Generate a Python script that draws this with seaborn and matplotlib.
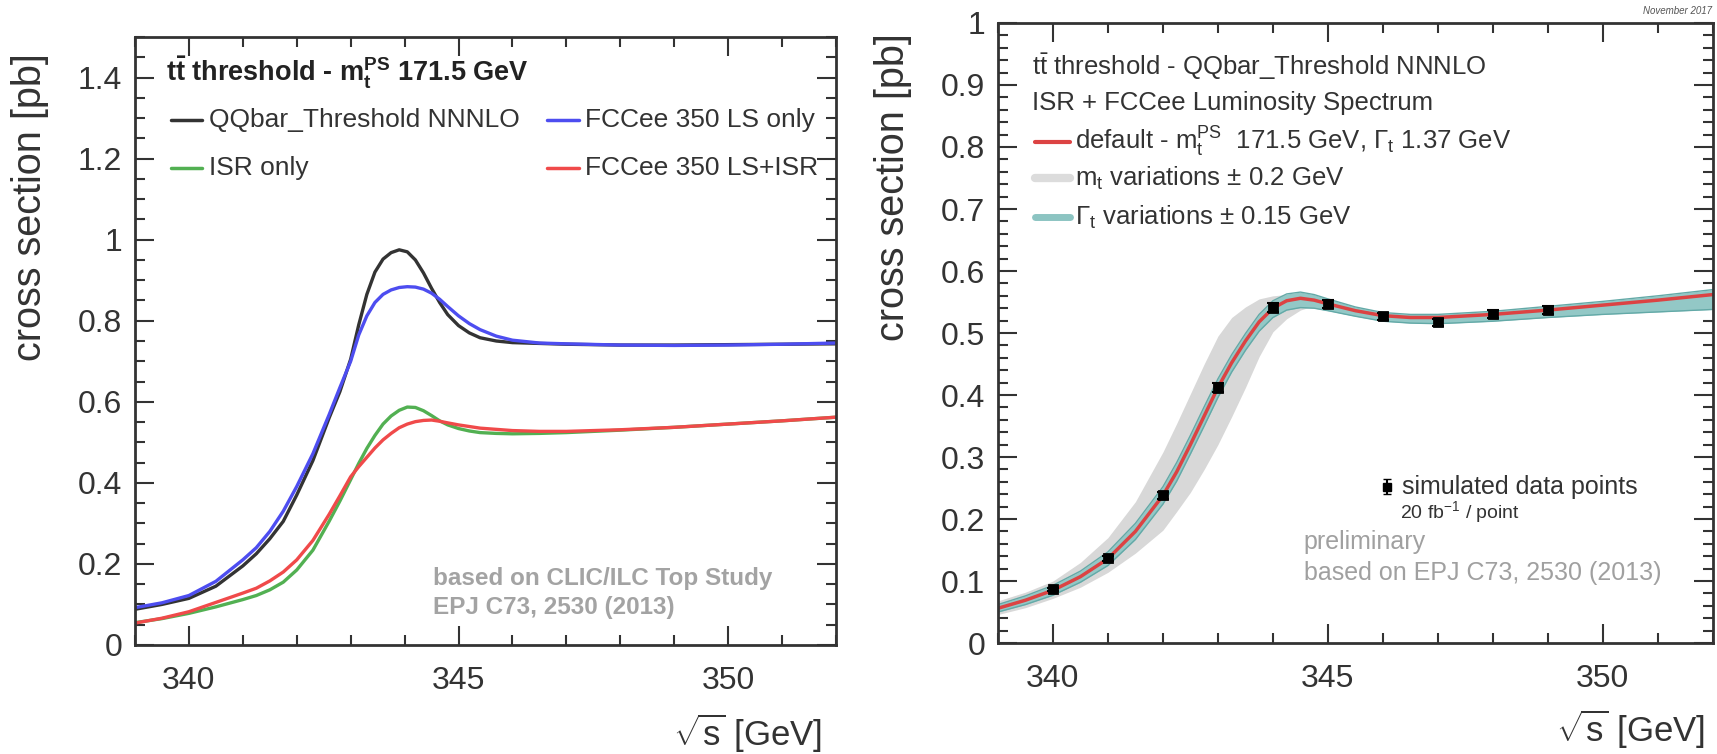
import numpy as np
import pandas as pd
import seaborn as sns
import matplotlib.pyplot as plt
from matplotlib.ticker import MultipleLocator, FuncFormatter

# ---- left panel: threshold scan curves ----
x_left = [339, 339.5, 340, 340.5, 341, 341.25, 341.5, 341.75, 342, 342.3, 342.6, 342.8,
          343.0, 343.15, 343.3, 343.45, 343.6, 343.75, 343.9, 344.05, 344.2, 344.35, 344.5,
          344.65, 344.8, 345.0, 345.2, 345.4, 345.7, 346, 346.5, 347, 348, 349, 350, 351, 352]
nnnlo = [0.088, 0.100, 0.115, 0.145, 0.195, 0.225, 0.262, 0.305, 0.370, 0.455, 0.560, 0.625,
         0.705, 0.790, 0.865, 0.920, 0.952, 0.968, 0.975, 0.970, 0.950, 0.918, 0.880,
         0.845, 0.815, 0.788, 0.770, 0.758, 0.750, 0.746, 0.744, 0.742, 0.740, 0.740, 0.741,
         0.742, 0.743]
ls_only = [0.092, 0.104, 0.122, 0.157, 0.210, 0.240, 0.280, 0.330, 0.391, 0.472, 0.568, 0.635,
           0.700, 0.765, 0.812, 0.845, 0.865, 0.876, 0.882, 0.884, 0.883, 0.878, 0.868,
           0.853, 0.835, 0.812, 0.793, 0.778, 0.762, 0.752, 0.745, 0.743, 0.740, 0.739, 0.740,
           0.742, 0.745]
isr_only = [0.055, 0.065, 0.078, 0.094, 0.112, 0.122, 0.136, 0.155, 0.185, 0.234, 0.305, 0.355,
            0.408, 0.448, 0.485, 0.517, 0.545, 0.565, 0.579, 0.587, 0.586, 0.578, 0.566,
            0.553, 0.543, 0.534, 0.528, 0.524, 0.522, 0.521, 0.522, 0.524, 0.530, 0.537, 0.545,
            0.553, 0.562]
ls_isr = [0.054, 0.066, 0.082, 0.105, 0.128, 0.140, 0.158, 0.180, 0.210, 0.258, 0.322, 0.368,
          0.415, 0.440, 0.463, 0.486, 0.506, 0.522, 0.536, 0.545, 0.551, 0.554, 0.555,
          0.552, 0.548, 0.543, 0.539, 0.535, 0.532, 0.529, 0.527, 0.527, 0.531, 0.537, 0.545,
          0.553, 0.562]

# ---- right panel: default curve + variation bands + simulated points ----
x_right = [339, 339.5, 340, 340.5, 341, 341.5, 342, 342.25, 342.5, 342.75, 343, 343.25, 343.5,
           343.75, 344, 344.25, 344.5, 344.75, 345, 345.5, 346, 346.5, 347, 348, 349, 350,
           351, 352]
default = [0.056, 0.069, 0.085, 0.107, 0.136, 0.180, 0.238, 0.276, 0.320, 0.366, 0.412, 0.452,
           0.487, 0.518, 0.540, 0.552, 0.556, 0.553, 0.547, 0.536, 0.528, 0.525, 0.525, 0.530,
           0.537, 0.545, 0.553, 0.562]
mt_hi = [0.068, 0.082, 0.100, 0.130, 0.170, 0.228, 0.308, 0.354, 0.402, 0.450, 0.495, 0.525,
         0.542, 0.555, 0.560, 0.562, 0.561, 0.557, 0.552, 0.540, 0.531, 0.527, 0.527, 0.533,
         0.540, 0.548, 0.556, 0.566]
mt_lo = [0.046, 0.057, 0.072, 0.090, 0.114, 0.145, 0.182, 0.212, 0.243, 0.280, 0.320, 0.365,
         0.412, 0.462, 0.502, 0.523, 0.537, 0.544, 0.543, 0.535, 0.525, 0.521, 0.521, 0.526,
         0.533, 0.540, 0.548, 0.556]
gam_hi = [0.062, 0.076, 0.093, 0.116, 0.147, 0.193, 0.252, 0.291, 0.335, 0.381, 0.426, 0.465,
          0.499, 0.530, 0.552, 0.563, 0.566, 0.562, 0.555, 0.542, 0.533, 0.530, 0.530, 0.535,
          0.543, 0.551, 0.560, 0.570]
gam_lo = [0.050, 0.062, 0.077, 0.098, 0.125, 0.167, 0.224, 0.261, 0.305, 0.350, 0.396, 0.437,
          0.472, 0.503, 0.525, 0.537, 0.541, 0.540, 0.536, 0.527, 0.519, 0.516, 0.515, 0.519,
          0.525, 0.530, 0.534, 0.538]

pts_x = [340, 341, 342, 343, 344, 345, 346, 347, 348, 349]
pts_y = [0.0865, 0.137, 0.238, 0.412, 0.541, 0.547, 0.527, 0.517, 0.531, 0.537]
pts_err = [0.003, 0.004, 0.005, 0.007, 0.007, 0.006, 0.006, 0.006, 0.006, 0.006]

sns.set_style('ticks')
plt.rcParams['font.family'] = ['Liberation Sans', 'DejaVu Sans']
plt.rcParams['mathtext.fontset'] = 'custom'
plt.rcParams['mathtext.rm'] = 'Liberation Sans'
plt.rcParams['mathtext.it'] = 'Liberation Sans:italic'
plt.rcParams['mathtext.bf'] = 'Liberation Sans:bold'

TXT = '#333333'
BLACK, BLUE, GREEN, RED = '#333333', '#4d4df0', '#52b052', '#f04a4a'

fig = plt.figure(figsize=(17.17, 7.54), dpi=100)
ax1 = fig.add_axes([0.0786, 0.1446, 0.4083, 0.8063])
ax2 = fig.add_axes([0.5812, 0.1472, 0.4164, 0.8223])

fmt = FuncFormatter(lambda v, p: '%g' % round(v, 3))
for ax in (ax1, ax2):
    ax.set_xlim(339, 352)
    ax.xaxis.set_major_locator(MultipleLocator(5))
    ax.xaxis.set_minor_locator(MultipleLocator(1))
    ax.xaxis.set_major_formatter(fmt)
    ax.yaxis.set_major_formatter(fmt)
    ax.tick_params(which='both', direction='in', top=True, right=True, colors=TXT,
                   labelsize=23, width=1.5)
    ax.tick_params(which='major', length=14)
    ax.tick_params(which='minor', length=7)
    ax.tick_params(axis='x', pad=15)
    ax.tick_params(axis='y', pad=9)
    for s in ax.spines.values():
        s.set_linewidth(2)
        s.set_color(TXT)

# left panel
ax1.set_ylim(0, 1.5)
ax1.yaxis.set_major_locator(MultipleLocator(0.2))
ax1.yaxis.set_minor_locator(MultipleLocator(0.05))
for yy, c in [(nnnlo, BLACK), (ls_only, BLUE), (isr_only, GREEN), (ls_isr, RED)]:
    sns.lineplot(x=x_left, y=yy, ax=ax1, color=c, linewidth=2.4, estimator=None)

ax1.text(0.044, 0.942, r'$\mathbf{t\bar{t}}$ threshold - m$_\mathbf{t}^\mathbf{PS}$ 171.5 GeV',
         transform=ax1.transAxes, fontsize=19.5, fontweight='bold', color='#222222', va='center')
leg_left = [(0.051, 0.863, BLACK, 'QQbar_Threshold NNNLO'),
            (0.588, 0.863, BLUE, 'FCCee 350 LS only'),
            (0.051, 0.785, GREEN, 'ISR only'),
            (0.588, 0.785, RED, 'FCCee 350 LS+ISR')]
for lx, ly, c, lab in leg_left:
    ax1.plot([lx, lx + 0.045], [ly, ly], transform=ax1.transAxes, color=c, lw=2.5)
    ax1.text(lx + 0.054, ly, lab, transform=ax1.transAxes, fontsize=19, color='#333333',
             va='center')
ax1.text(0.425, 0.110, 'based on CLIC/ILC Top Study', transform=ax1.transAxes, fontsize=17.5,
         fontweight='bold', color='#a3a3a3', va='center')
ax1.text(0.425, 0.061, 'EPJ C73, 2530 (2013)', transform=ax1.transAxes, fontsize=17.5,
         fontweight='bold', color='#a3a3a3', va='center')

# right panel
ax2.set_ylim(0, 1)
ax2.yaxis.set_major_locator(MultipleLocator(0.1))
ax2.yaxis.set_minor_locator(MultipleLocator(0.02))
ax2.fill_between(x_right, mt_lo, mt_hi, color='#d8d8d8', lw=0)
ax2.fill_between(x_right, gam_lo, gam_hi, color='#93c8c6', lw=0)
sns.lineplot(x=x_right, y=gam_hi, ax=ax2, color='#63a9a7', linewidth=1, estimator=None)
sns.lineplot(x=x_right, y=gam_lo, ax=ax2, color='#63a9a7', linewidth=1, estimator=None)
sns.lineplot(x=x_right, y=default, ax=ax2, color='#dc4343', linewidth=2.5, estimator=None)
ax2.errorbar(pts_x, pts_y, yerr=pts_err, fmt='none', ecolor='black', elinewidth=1.5,
             capsize=4, capthick=1.5, zorder=5)
sns.scatterplot(x=pts_x, y=pts_y, ax=ax2, color='black', marker='s', s=50, zorder=6,
                edgecolor='black')

ax2.text(0.048, 0.929, r'$\mathrm{t\bar{t}}$ threshold - QQbar_Threshold NNNLO',
         transform=ax2.transAxes, fontsize=18.5, color='#333333', va='center')
ax2.text(0.048, 0.871, 'ISR + FCCee Luminosity Spectrum', transform=ax2.transAxes,
         fontsize=18.5, color='#333333', va='center')
leg_right = [(0.808, '#dc4343', 3, r'default - m$_\mathrm{t}^\mathrm{PS}$  171.5 GeV, Γ$_\mathrm{t}$ 1.37 GeV'),
             (0.750, '#dcdcdc', 6, r'm$_\mathrm{t}$ variations ± 0.2 GeV'),
             (0.687, '#8cc4c2', 5, r'Γ$_\mathrm{t}$ variations ± 0.15 GeV')]
for ly, c, w, lab in leg_right:
    ax2.plot([0.052, 0.101], [ly, ly], transform=ax2.transAxes, color=c, lw=w)
    ax2.text(0.108, ly, lab, transform=ax2.transAxes, fontsize=18.5, color='#333333', va='center')

ax2.errorbar([0.544], [0.252], yerr=[0.012], transform=ax2.transAxes, fmt='s', color='black',
             ms=6, capsize=3)
ax2.text(0.565, 0.252, 'simulated data points', transform=ax2.transAxes, fontsize=18,
         color='#333333', va='center')
ax2.text(0.563, 0.212, r'20 fb$^{-1}$ / point', transform=ax2.transAxes, fontsize=14,
         color='#333333', va='center')
ax2.text(0.428, 0.163, 'preliminary', transform=ax2.transAxes, fontsize=18,
         color='#a0a0a0', va='center')
ax2.text(0.428, 0.113, 'based on EPJ C73, 2530 (2013)', transform=ax2.transAxes, fontsize=18,
         color='#a0a0a0', va='center')
fig.text(0.997, 0.985, 'November 2017', fontsize=7, style='italic', color='#555555',
         ha='right', va='center')

# axis titles, ROOT style (aligned to the axis ends)
for ax, ylc, xlc in [(ax1, (-0.150, 0.974), (0.98, -0.145)),
                     (ax2, (-0.147, 0.984), (0.989, -0.140))]:
    ax.set_ylabel('cross section [pb]', fontsize=28.5, color=TXT)
    ax.yaxis.label.set(rotation_mode='anchor', ha='right', va='center')
    ax.yaxis.set_label_coords(*ylc)
    ax.set_xlabel(r'$\sqrt{\mathrm{s}}$ [GeV]', fontsize=25, color=TXT)
    ax.xaxis.label.set(rotation_mode='anchor', ha='right', va='center')
    ax.xaxis.set_label_coords(*xlc)

fig.savefig('out.png', dpi=100)
